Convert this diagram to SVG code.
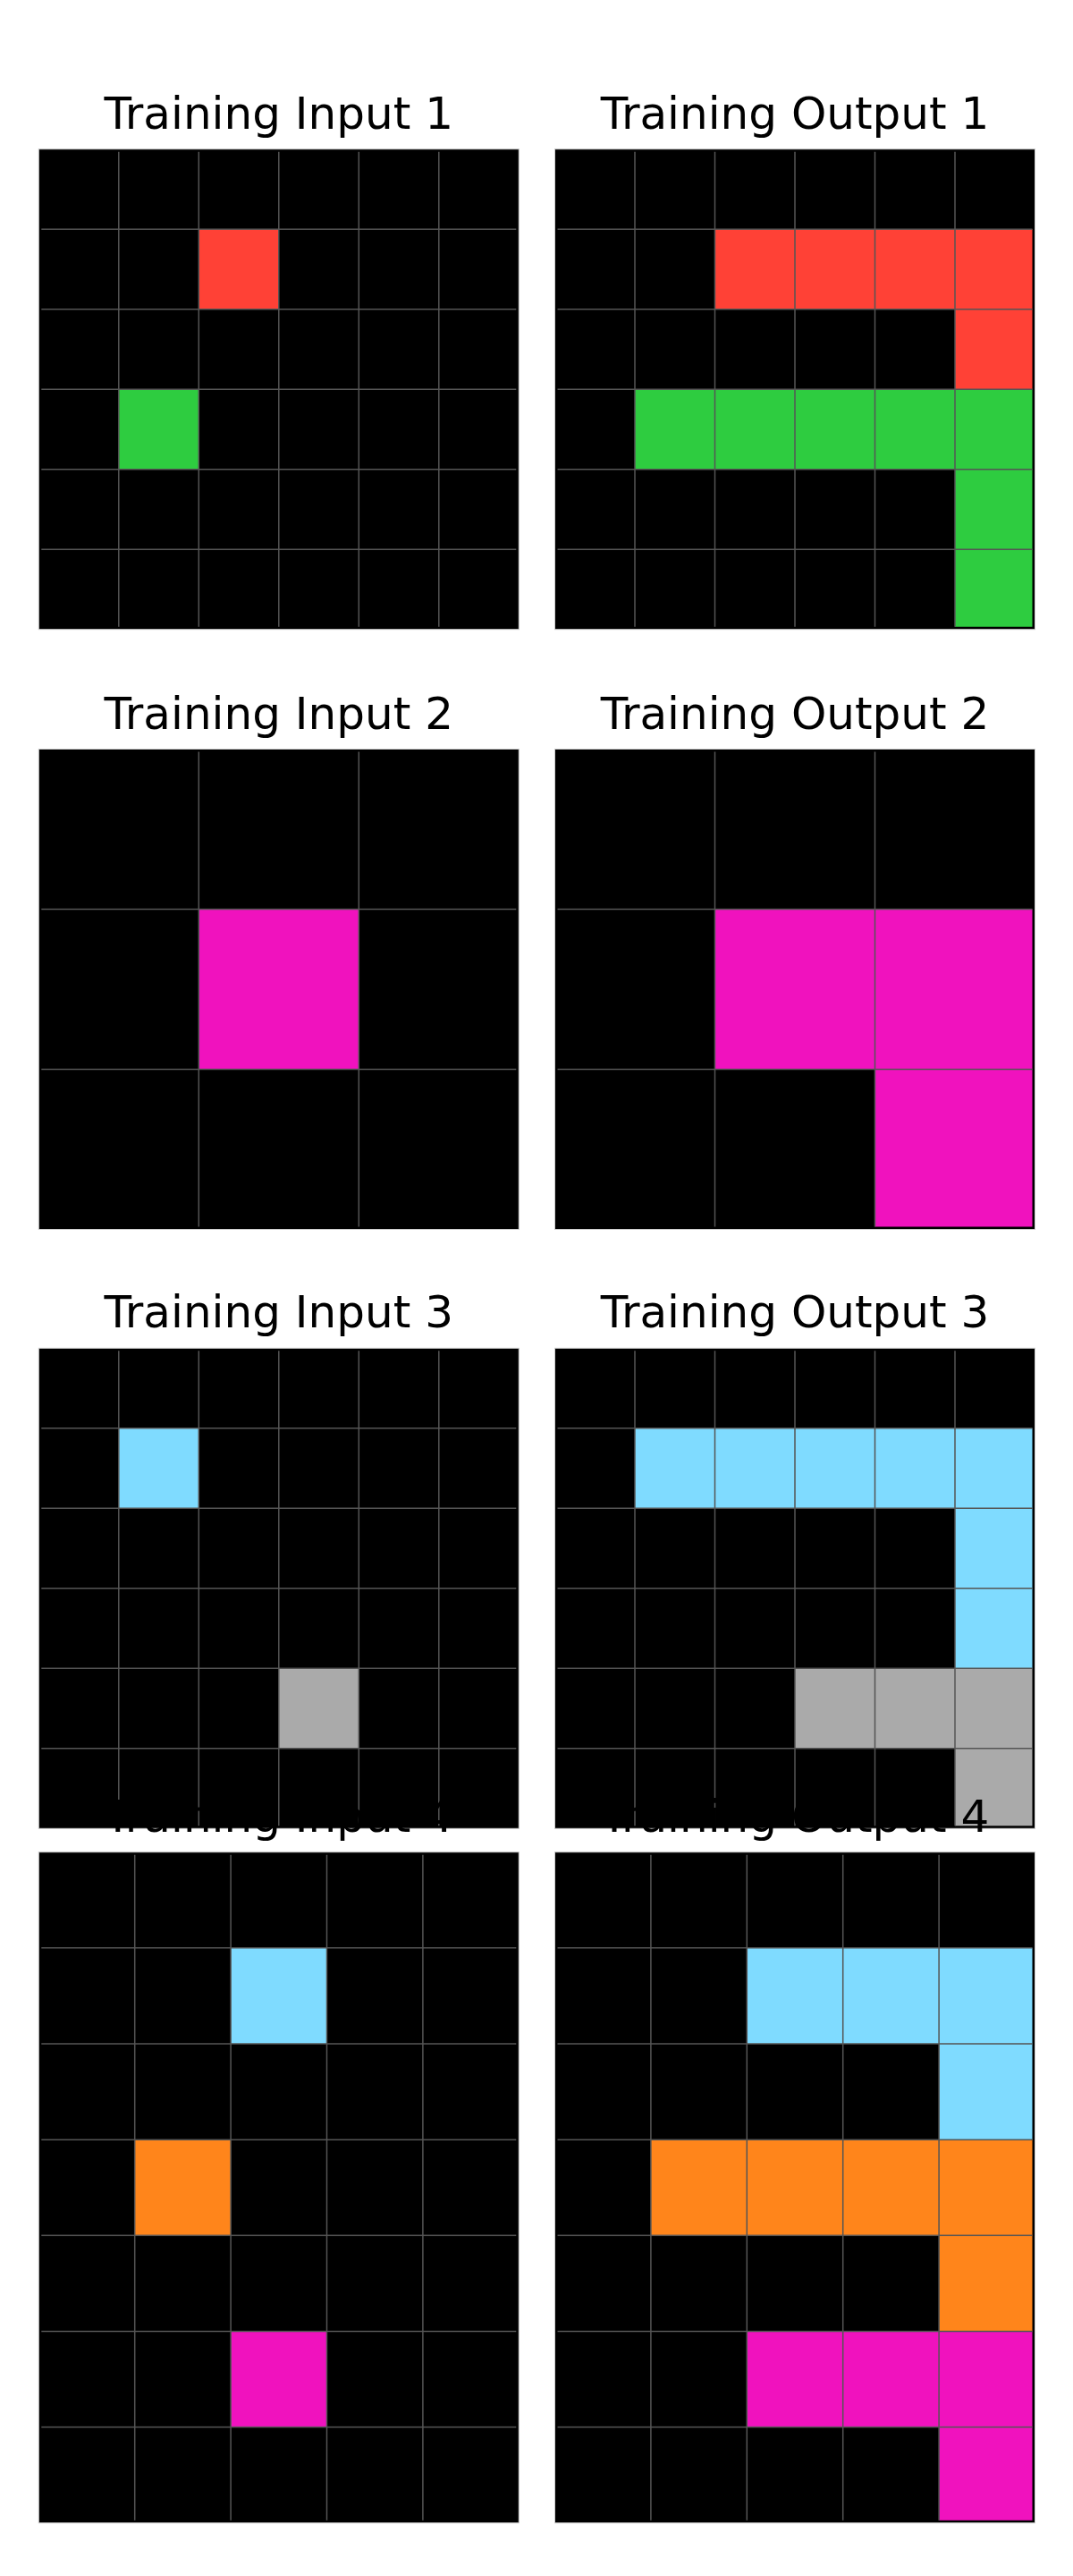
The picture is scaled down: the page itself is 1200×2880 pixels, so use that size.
<svg xmlns="http://www.w3.org/2000/svg" width="1200" height="2880" viewBox="0 0 1200 2880">
<style>
.bg{fill:#000;stroke:#cccccc;stroke-width:1}
.gl{stroke:#555555;stroke-width:1.5;fill:none}
.t{font-family:"DejaVu Sans","Liberation Sans",sans-serif;font-size:50px;fill:#000;text-anchor:middle}
.r{fill:#FF4136}.g{fill:#2ECC40}.m{fill:#F012BE}.b{fill:#7FDBFF}.y{fill:#AAAAAA}.o{fill:#FF851B}
</style>
<defs>
<clipPath id="cs" clipPathUnits="userSpaceOnUse"><rect x="3" y="3" width="531" height="531"/></clipPath>
<clipPath id="ct" clipPathUnits="userSpaceOnUse"><rect x="3" y="3" width="531" height="744"/></clipPath>
<g id="l6">
<path class="gl" d="M89.5 3V534M179 3V534M268.5 3V534M358 3V534M447.5 3V534M3 89.5H534M3 179H534M3 268.5H534M3 358H534M3 447.5H534"/>
</g>
<g id="l3">
<path class="gl" d="M179 3V534M358 3V534M3 179H534M3 358H534"/>
</g>
<g id="l57">
<path class="gl" d="M107.4 3V747M214.8 3V747M322.2 3V747M429.6 3V747M3 107.14H534M3 214.29H534M3 321.43H534M3 428.57H534M3 535.71H534M3 642.86H534"/>
</g>
</defs>
<rect width="1200" height="2880" fill="#fff"/>

<g id="title-in1"><text class="t" x="311.8" y="143.7">Training Input 1</text></g>
<g id="title-out1"><text class="t" x="889" y="143.7">Training Output 1</text></g>
<g id="in1" transform="translate(43.3,166.7)">
<rect class="bg" width="537" height="537"/>
<g clip-path="url(#cs)">
<rect class="r" x="179" y="89.5" width="89.5" height="89.5"/>
<rect class="g" x="89.5" y="268.5" width="89.5" height="89.5"/>
</g>
<use href="#l6"/>
</g>
<g id="out1" transform="translate(620.5,166.7)">
<rect class="bg" width="537" height="537"/>
<g clip-path="url(#cs)">
<rect class="r" x="179" y="89.5" width="358" height="89.5"/>
<rect class="r" x="447.5" y="179" width="89.5" height="89.5"/>
<rect class="g" x="89.5" y="268.5" width="447.5" height="89.5"/>
<rect class="g" x="447.5" y="358" width="89.5" height="179"/>
</g>
<use href="#l6"/>
</g>

<g id="title-in2"><text class="t" x="311.8" y="814.5">Training Input 2</text></g>
<g id="title-out2"><text class="t" x="889" y="814.5">Training Output 2</text></g>
<g id="in2" transform="translate(43.3,837.5)">
<rect class="bg" width="537" height="537"/>
<g clip-path="url(#cs)">
<rect class="m" x="179" y="179" width="179" height="179"/>
</g>
<use href="#l3"/>
</g>
<g id="out2" transform="translate(620.5,837.5)">
<rect class="bg" width="537" height="537"/>
<g clip-path="url(#cs)">
<rect class="m" x="179" y="179" width="358" height="179"/>
<rect class="m" x="358" y="358" width="179" height="179"/>
</g>
<use href="#l3"/>
</g>

<g id="title-in3"><text class="t" x="311.8" y="1484.3">Training Input 3</text></g>
<g id="title-out3"><text class="t" x="889" y="1484.3">Training Output 3</text></g>
<g id="in3" transform="translate(43.3,1507.3)">
<rect class="bg" width="537" height="537"/>
<g clip-path="url(#cs)">
<rect class="b" x="89.5" y="89.5" width="89.5" height="89.5"/>
<rect class="y" x="268.5" y="358" width="89.5" height="89.5"/>
</g>
<use href="#l6"/>
</g>
<g id="out3" transform="translate(620.5,1507.3)">
<rect class="bg" width="537" height="537"/>
<g clip-path="url(#cs)">
<rect class="b" x="89.5" y="89.5" width="447.5" height="89.5"/>
<rect class="b" x="447.5" y="179" width="89.5" height="179"/>
<rect class="y" x="268.5" y="358" width="268.5" height="89.5"/>
<rect class="y" x="447.5" y="447.5" width="89.5" height="89.5"/>
</g>
<use href="#l6"/>
</g>

<g id="title-in4"><text class="t" x="311.8" y="2047.7">Training Input 4</text></g>
<g id="title-out4"><text class="t" x="889" y="2047.7">Training Output 4</text></g>
<g id="in4" transform="translate(43.3,2070.7)">
<rect class="bg" width="537" height="750"/>
<g clip-path="url(#ct)">
<rect class="b" x="214.8" y="107.14" width="107.4" height="107.14"/>
<rect class="o" x="107.4" y="321.43" width="107.4" height="107.14"/>
<rect class="m" x="214.8" y="535.71" width="107.4" height="107.14"/>
</g>
<use href="#l57"/>
</g>
<g id="out4" transform="translate(620.5,2070.7)">
<rect class="bg" width="537" height="750"/>
<g clip-path="url(#ct)">
<rect class="b" x="214.8" y="107.14" width="322.2" height="107.14"/>
<rect class="b" x="429.6" y="214.29" width="107.4" height="107.14"/>
<rect class="o" x="107.4" y="321.43" width="429.6" height="107.14"/>
<rect class="o" x="429.6" y="428.57" width="107.4" height="107.14"/>
<rect class="m" x="214.8" y="535.71" width="322.2" height="107.14"/>
<rect class="m" x="429.6" y="642.86" width="107.4" height="107.14"/>
</g>
<use href="#l57"/>
</g>
<g id="connectors"/>
</svg>
